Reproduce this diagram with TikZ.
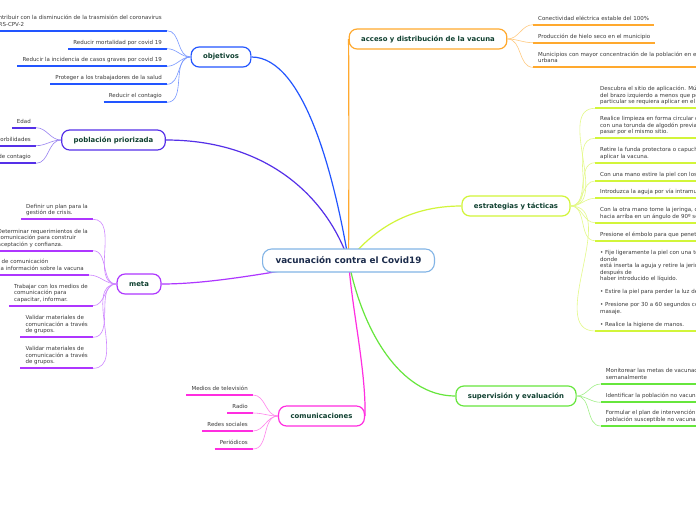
\documentclass[tikz,border=0pt]{standalone}
\usepackage{fontspec}
\setmainfont{DejaVu Sans}
\usetikzlibrary{backgrounds}
\definecolor{cobj}{HTML}{2255FF}
\definecolor{cpob}{HTML}{5530E8}
\definecolor{cmeta}{HTML}{AE36FF}
\definecolor{cacc}{HTML}{FFA92E}
\definecolor{cest}{HTML}{D2F53A}
\definecolor{csup}{HTML}{66E63C}
\definecolor{ccom}{HTML}{FF2EE0}
\definecolor{ccen}{HTML}{82B4E6}
\definecolor{lbl}{HTML}{0F4030}
\definecolor{ctext}{HTML}{1B2B4B}
\definecolor{leaftext}{HTML}{3A3A3A}
\newcommand\lfdepth{\rule[-1.4pt]{0pt}{1pt}}
\begin{document}
\begin{tikzpicture}[x=1pt,y=-1pt,
 branch/.style={draw=#1, line width=1.2pt, rounded corners=8pt, fill=white, text=lbl,
   font=\bfseries\fontsize{6.9}{8}\selectfont, minimum height=20pt, inner xsep=12pt},
 leafL/.style={font=\fontsize{5.5}{6.5}\selectfont, text=leaftext, align=left,
   inner xsep=5pt, inner ysep=3pt, anchor=south east, execute at end node=\lfdepth},
 leafR/.style={leafL, anchor=south west},
 ul/.style={draw=#1, line width=1.8pt},
 lc/.style={draw=#1!60, line width=0.6pt},
 mainc/.style={draw=#1, line width=1.2pt}]
\useasboundingbox (0,0) rectangle (696,520);

% centre and branches
\node[draw=ccen, line width=1.1pt, rounded corners=9pt, fill=white, text=ctext,
  font=\bfseries\fontsize{8.8}{10}\selectfont, minimum height=23pt, inner xsep=13pt]
  (c) at (348.5,260.5) {vacunación contra el Covid19};
\node[branch=cobj] (obj) at (221,57) {objetivos};
\node[branch=cpob] (pob) at (113.5,140) {población priorizada};
\node[branch=cmeta] (meta) at (139,284) {meta};
\node[branch=cacc] (acc) at (428,39) {acceso y distribución de la vacuna};
\node[branch=cest] (est) at (516,206) {estrategias y tácticas};
\node[branch=csup] (sup) at (516,396) {supervisión y evaluación};
\node[branch=ccom] (com) at (321.5,416) {comunicaciones};

% objetivos leaves
\node[leafL] (o1) at (167,30.7) {Contribuir con la disminución de la trasmisión del coronavirus\\SARS-CPV-2};
\node[leafL] (o2) at (167,48.7) {Reducir mortalidad por covid 19};
\node[leafL] (o3) at (167,66.3) {Reducir la incidencia de casos graves por covid 19};
\node[leafL] (o4) at (167,84.3) {Proteger a los trabajadores de la salud};
\node[leafL] (o5) at (167,102.3) {Reducir el contagio};
\foreach \n in {o1,o2,o3,o4,o5}{
  \draw[ul=cobj] (\n.south west) -- (\n.south east);
  \draw[lc=cobj] (obj.west) to[out=180,in=0] (\n.south east);}

% poblacion leaves
\node[leafL] (p1) at (36,127.7) {Edad};
\node[leafL] (p2) at (36,145.7) {Comorbilidades};
\node[leafL] (p3) at (36,163.3) {Riesgo de contagio};
\foreach \n in {p1,p2,p3}{
  \draw[ul=cpob] (\n.south west) -- (\n.south east);
  \draw[lc=cpob] (pob.west) to[out=180,in=0] (\n.south east);}

% meta leaves
\node[leafL] (m1) at (93,219.3) {Definir un plan para la\\gestión de crisis.};
\node[leafL] (m2) at (93,250.7) {Determinar requerimientos de la\\comunicación para construir\\aceptación y confianza.};
\node[leafL] (m3) at (89,275) {Diseñar estrategias de comunicación\\para la difusión de la información sobre la vacuna};
\node[leafL] (m4) at (93,305.7) {Trabajar con los medios de\\comunicación para\\capacitar, informar.};
\node[leafL] (m5) at (93,337.3) {Validar materiales de\\comunicación a través\\de grupos.};
\node[leafL] (m6) at (93,368.3) {Validar materiales de\\comunicación a través\\de grupos.};
\foreach \n in {m1,m2,m3,m4,m5,m6}{
  \draw[ul=cmeta] (\n.south west) -- (\n.south east);
  \draw[lc=cmeta] (meta.west) to[out=180,in=0] (\n.south east);}

% acceso leaves
\node[leafR] (a1) at (533,24.7) {Conectividad eléctrica estable del 100\%};
\node[leafR] (a2) at (533,42.7) {Producción de hielo seco en el municipio};
\node[leafR] (a3) at (533,67.3) {Municipios con mayor concentración de la población en el área\\urbana};
\foreach \n in {a1,a2,a3}{
  \draw[ul=cacc] (\n.south west) -- (\n.south east);
  \draw[lc=cacc] (acc.east) to[out=0,in=180] (\n.south west);}

% estrategias leaves
\node[leafR] (e1) at (595,108.3) {Descubra el sitio de aplicación. Músculo deltoides\\del brazo izquierdo a menos que por alguna situación\\particular se requiera aplicar en el derecho.};
\node[leafR] (e2) at (595,138.3) {Realice limpieza en forma circular del centro a la periferia\\con una torunda de algodón previamente humedecida, sin volver a\\pasar por el mismo sitio.};
\node[leafR] (e3) at (595,162.7) {Retire la funda protectora o capuchón de la aguja antes de\\aplicar la vacuna.};
\node[leafR] (e4) at (595,181) {Con una mano estire la piel con los dedos índice y pulgar.};
\node[leafR] (e5) at (595,198.3) {Introduzca la aguja por vía intramuscular.};
\node[leafR] (e6) at (595,222.7) {Con la otra mano tome la jeringa, con el bisel de la aguja\\hacia arriba en un ángulo de 90º sobre el plano de la piel.};
\node[leafR] (e7) at (595,240.7) {Presione el émbolo para que penetre el biológico.};
\node[leafR] (e8) at (595,331) {• Fije ligeramente la piel con una torunda seca, en el sitio\\donde\\está inserta la aguja y retire la jeringa inmediatamente\\después de\\haber introducido el líquido.\\[6.5pt]• Estire la piel para perder la luz del orificio.\\[6.5pt]• Presione por 30 a 60 segundos con la torunda, sin dar\\masaje.\\[6.5pt]• Realice la higiene de manos.};
\foreach \n in {e1,e2,e3,e4,e5,e6,e7,e8}{
  \draw[ul=cest] (\n.south west) -- (\n.south east);
  \draw[lc=cest] (est.east) to[out=0,in=180] (\n.south west);}

% supervision leaves
\node[leafR] (s1) at (600.7,384) {Monitorear las metas de vacunación\\semanalmente};
\node[leafR] (s2) at (600.7,402.3) {Identificar la población no vacunada};
\node[leafR] (s3) at (600.7,426) {Formular el plan de intervención para la\\población susceptible no vacunada};
\foreach \n in {s1,s2,s3}{
  \draw[ul=csup] (\n.south west) -- (\n.south east);
  \draw[lc=csup] (sup.east) to[out=0,in=180] (\n.south west);}

% comunicaciones leaves
\node[leafL] (k1) at (253,395) {Medios de televisión};
\node[leafL] (k2) at (253,413) {Radio};
\node[leafL] (k3) at (253,431) {Redes sociales};
\node[leafL] (k4) at (253,449) {Periódicos};
\foreach \n in {k1,k2,k3,k4}{
  \draw[ul=ccom] (\n.south west) -- (\n.south east);
  \draw[lc=ccom] (com.west) to[out=180,in=0] (\n.south east);}

% background and main connectors
\begin{scope}[on background layer]
\fill[white] (0,0) rectangle (696,520);
\draw[mainc=cobj] (obj.east) .. controls (305,57) and (335,180) .. (c.center);
\draw[mainc=cpob] (pob.east) .. controls (270,140) and (328,200) .. (c.center);
\draw[mainc=cmeta] (meta.east) .. controls (220,284) and (290,268) .. (c.center);
\draw[mainc=cacc] (acc.west) .. controls (349,120) and (349,200) .. (c.center);
\draw[mainc=cest] (est.west) .. controls (410,206) and (375,228) .. (c.center);
\draw[mainc=csup] (sup.west) .. controls (400,396) and (362,330) .. (c.center);
\draw[mainc=ccom] (com.east) .. controls (366,370) and (352,310) .. (c.center);
\end{scope}
\end{tikzpicture}
\end{document}
